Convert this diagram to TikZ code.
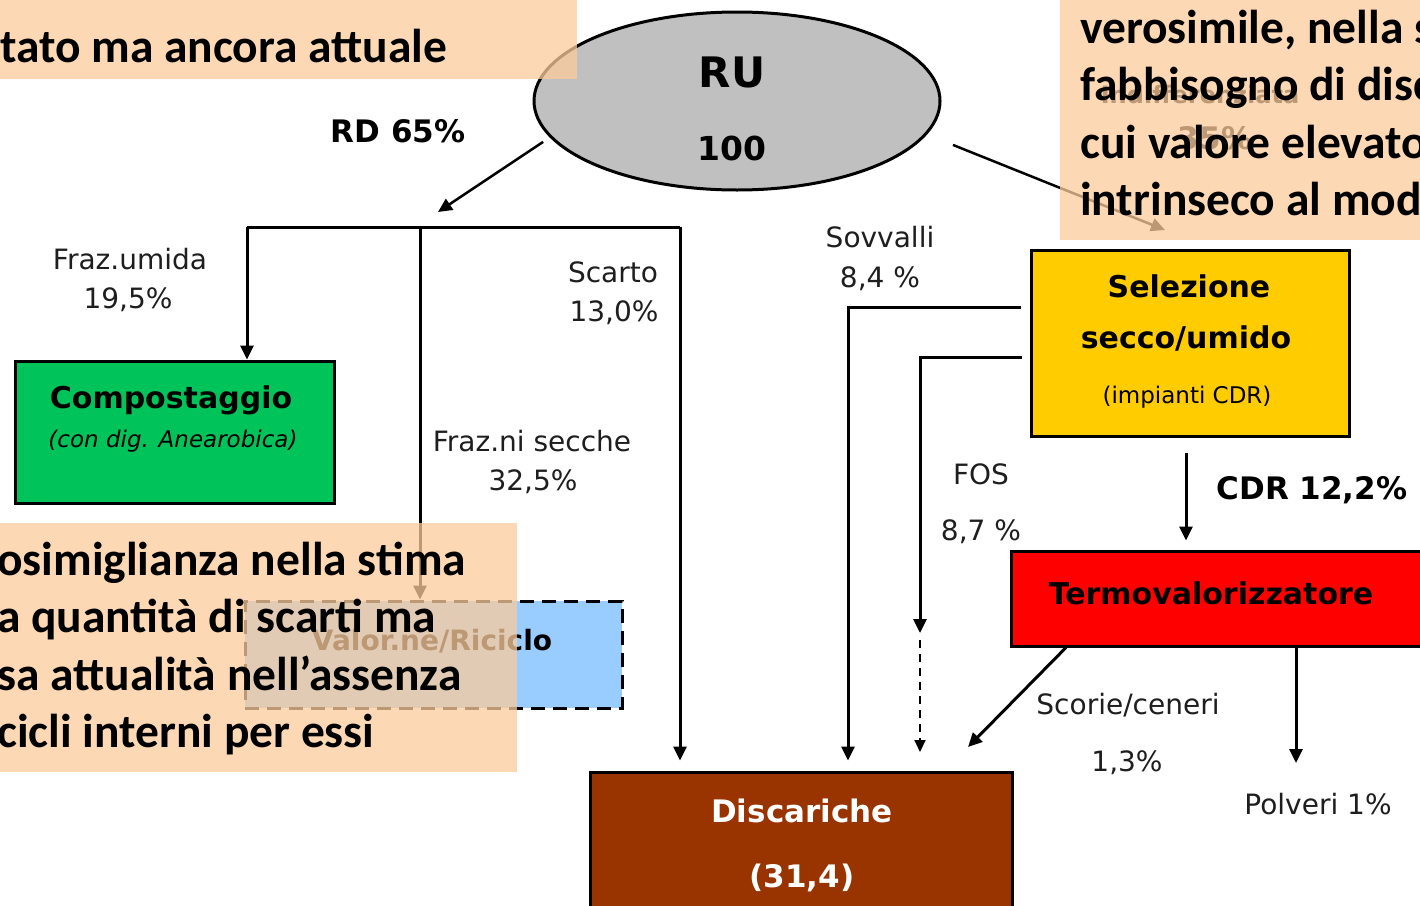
\documentclass[tikz,border=0pt]{standalone}
\usepackage{fontspec}
\setmainfont{DejaVu Sans}
\newfontfamily\calloutfont{Carlito}
\usetikzlibrary{arrows.meta,shapes.geometric}
\definecolor{compgreen}{RGB}{0,196,90}
\definecolor{selyellow}{RGB}{255,204,0}
\definecolor{termored}{RGB}{255,0,0}
\definecolor{discbrown}{RGB}{153,51,0}
\definecolor{recblue}{RGB}{153,204,255}
\definecolor{rugrey}{RGB}{192,192,192}
\definecolor{notepeach}{RGB}{251,203,155}
\definecolor{lbltext}{RGB}{30,30,30}
\begin{document}
\begin{tikzpicture}[x=1pt,y=-1pt,
  lbl/.style={inner sep=0pt, font=\fontsize{28}{34}\selectfont, text=lbltext},
  biglbl/.style={inner sep=0pt, font=\fontsize{31}{36}\selectfont\bfseries},
  ttl/.style={inner sep=0pt, font=\fontsize{30}{36}\selectfont\bfseries},
  sublbl/.style={inner sep=0pt, font=\fontsize{23}{28}\selectfont},
  box/.style={draw=black, line width=3pt, inner sep=0pt},
  flow/.style={line width=3pt, -{Triangle[width=13pt,length=14pt]}},
  thinflow/.style={line width=2pt, dash pattern=on 8pt off 6pt, -{Triangle[width=11pt,length=12pt]}},
  note/.style={fill=notepeach, fill opacity=0.75, draw=none},
  notetext/.style={inner sep=0pt, anchor=base west, font=\calloutfont\bfseries\fontsize{47.5}{57.5}\selectfont},
]
\useasboundingbox (0,0) rectangle (1420,905);
\begin{scope}
\clip (0,0) rectangle (1420,905);
\fill[white] (0,0) rectangle (1420,905);

% source: municipal waste
\node[draw, line width=3pt, fill=rugrey, ellipse, inner sep=0pt,
      minimum width=406pt, minimum height=178pt] (ru) at (737,101) {};
\node[inner sep=0pt, font=\fontsize{42}{48}\selectfont\bfseries] (ruT) at (732,72) {RU};
\node[inner sep=0pt, font=\fontsize{33}{38}\selectfont\bfseries] (ruN) at (732,148) {100};

% treatment boxes
\node[box, fill=compgreen, minimum width=319pt, minimum height=142pt] (comp) at (174.5,432) {};
\node[ttl] (compT) at (171,400) {Compostaggio};
\node[inner sep=0pt, font=\fontsize{23}{28}\selectfont\itshape] (compS) at (173,441) {(con dig. Anearobica)};

\node[draw=black, line width=3pt, dash pattern=on 14pt off 8pt, fill=recblue, inner sep=0pt,
      minimum width=377pt, minimum height=107pt] (valor) at (433.5,654.5) {};
\node[inner sep=0pt, font=\fontsize{28}{34}\selectfont\bfseries] (valorT) at (432,641) {Valor.ne/Riciclo};

\node[box, fill=selyellow, minimum width=318pt, minimum height=186pt] (sel) at (1190,343) {};
\node[ttl] (selT1) at (1189,286) {Selezione};
\node[ttl] (selT2) at (1186,338) {secco/umido};
\node[sublbl] (selS) at (1187,397) {(impianti CDR)};

\node[box, fill=termored, minimum width=420pt, minimum height=95pt] (termo) at (1221,598.5) {};
\node[ttl] (termoT) at (1211,593) {Termovalorizzatore};

\node[box, fill=discbrown, minimum width=422pt, minimum height=163pt] (disc) at (801,853.5) {};
\node[ttl, text=white, font=\fontsize{31}{36}\selectfont\bfseries] (discT) at (802,811) {Discariche};
\node[ttl, text=white, font=\fontsize{31}{36}\selectfont\bfseries] (discN) at (802,878) {(31,4)};

% separate collection branch
\coordinate (rdTip) at (438,212);
\coordinate (jL) at (247,227);
\coordinate (jM) at (420,227);
\coordinate (jR) at (680,227);
\draw[flow, line width=2.5pt, shorten <=8pt] (ru.191.5) -- (rdTip);
\draw[line width=3pt] (jL) -- (jR);
\draw[flow] (jL) -- (jL |- comp.north);
\draw[flow] (jM) -- (jM |- valor.north);
\draw[flow, shorten >=10pt] (jR) -- (jR |- disc.north);

% residual waste branch
\coordinate (indTip) at (1165,230);
\draw[flow, line width=2.5pt, shorten <=28pt] (ru.-10.5) -- (indTip);
\draw[flow, shorten <=9pt, shorten >=10pt] (sel.west |- 0,307) -| (848,0 |- disc.north);
\coordinate (fosStart) at (1022,357);
\coordinate (fosMid) at (920,633);
\coordinate (fosGap) at (920,640);
\coordinate (fosEnd) at (920,752);
\draw[flow] (fosStart) -| (fosMid);
\draw[thinflow] (fosGap) -- (fosEnd);
\draw[flow, shorten <=15pt, shorten >=9pt] (1186,0 |- sel.south) -- (1186,0 |- termo.north);

% outputs of the incinerator
\coordinate (scorieEnd) at (968,747);
\coordinate (polvEnd) at (1296,763);
\draw[flow] (1066,0 |- termo.south) -- (scorieEnd);
\draw[flow] (1296,0 |- termo.south) -- (polvEnd);

% flow labels
\node[biglbl] (lRD) at (398,131) {RD 65\%};
\node[biglbl, font=\fontsize{24}{28}\selectfont\bfseries] (lInd1) at (1200,95) {Indifferenziata};
\node[biglbl] (lInd2) at (1215,138) {35\%};
\node[lbl] (lUm1) at (130,259) {Fraz.umida};
\node[lbl] (lUm2) at (128,300) {19,5\%};
\node[lbl] (lSc1) at (613,272) {Scarto};
\node[lbl] (lSc2) at (614,313) {13,0\%};
\node[lbl] (lSe1) at (532,441) {Fraz.ni secche};
\node[lbl] (lSe2) at (533,482) {32,5\%};
\node[lbl] (lSo1) at (880,237) {Sovvalli};
\node[lbl] (lSo2) at (880,279) {8,4 \%};
\node[lbl] (lFo1) at (981,474) {FOS};
\node[lbl] (lFo2) at (981,532) {8,7 \%};
\node[biglbl] (lCdr) at (1312,490) {CDR 12,2\%};
\node[lbl] (lScr1) at (1128,705) {Scorie/ceneri};
\node[lbl] (lScr2) at (1127,763) {1,3\%};
\node[lbl] (lPol) at (1318,804) {Polveri 1\%};

% call-out panels
\fill[note] (0,0) rectangle (577,79);
\fill[note] (0,523) rectangle (517,772);
\fill[note] (1060,0) rectangle (1420,240);
\node[notetext] (n1) at (0,62) {tato ma ancora attuale};
\node[notetext] (n2) at (-3,575) {osimiglianza nella stima};
\node[notetext] (n3) at (-3,632.5) {a quantità di scarti ma};
\node[notetext] (n4) at (-3,690) {sa attualità nell’assenza};
\node[notetext] (n5) at (-3,747.5) {cicli interni per essi};
\node[notetext] (n6) at (1080,43) {verosimile, nella s};
\node[notetext] (n7) at (1080,100.5) {fabbisogno di disc};
\node[notetext] (n8) at (1080,158) {cui valore elevato};
\node[notetext] (n9) at (1080,215.5) {intrinseco al mod};
\end{scope}
\end{tikzpicture}
\end{document}
